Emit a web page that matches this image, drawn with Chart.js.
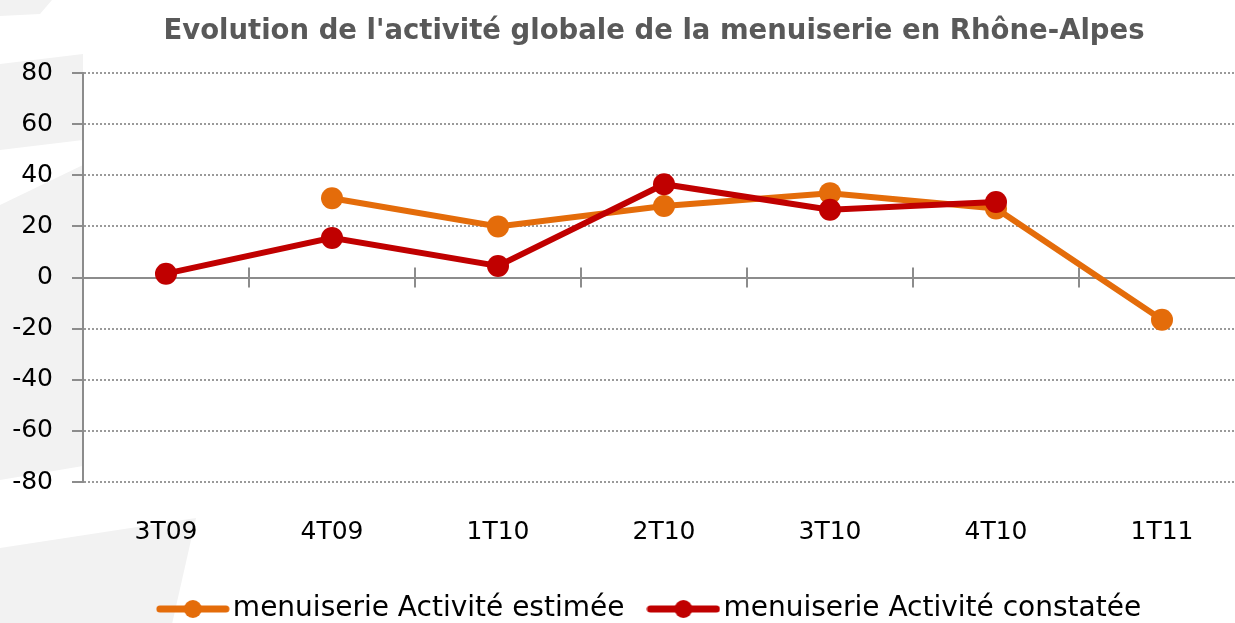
<!DOCTYPE html>
<html lang="fr">
<head>
<meta charset="utf-8">
<title>Evolution de l'activité globale de la menuiserie en Rhône-Alpes</title>
<script src="https://cdn.jsdelivr.net/npm/chart.js@4.4.1/dist/chart.umd.min.js"></script>
<style>
    html, body { margin: 0; padding: 0; background: #fff; overflow: hidden; }
    #wrap { position: relative; width: 1308px; height: 633px; }
    #chart { position: relative; z-index: 1; }
    .swoosh { position: absolute; left: 0; top: 0; width: 260px; height: 633px; background: #f2f2f2; z-index: 0; }
</style>
</head>
<body>
<div id="wrap">
    <div class="swoosh" style="clip-path: polygon(0 0, 52px 0, 40px 14px, 0 16px);"></div>
    <div class="swoosh" style="clip-path: polygon(0 64px, 83px 54px, 83px 140px, 0 150px);"></div>
    <div class="swoosh" style="clip-path: polygon(0 205px, 83px 165px, 83px 466px, 0 480px);"></div>
    <div class="swoosh" style="clip-path: polygon(0 548px, 196px 518px, 170px 633px, 0 633px);"></div>
    <canvas id="chart"></canvas>
</div>
<script>
const quarters = ['3T09', '4T09', '1T10', '2T10', '3T10', '4T10', '1T11'];
const activiteEstimee = [null, 31, 20, 28, 33, 27, -16.5];
const activiteConstatee = [1.5, 15.5, 4.5, 36.5, 26.5, 29.5, null];
const seriesLabels = ['menuiserie Activité estimée', 'menuiserie Activité constatée'];
const yMin = -80;
const yMax = 80;
const yStep = 20;

const ORANGE = '#e46c0a';
const RED = '#c00000';
const AXIS_GREY = '#8c8c8c';
const GRID_GREY = '#9a9a9a';
const FONT = "'DejaVu Sans', sans-serif";

// legend marker: short line with a dot, like the spreadsheet legend
function legendIcon(color) {
    const c = document.createElement('canvas');
    c.width = 74;
    c.height = 20;
    const g = c.getContext('2d');
    g.strokeStyle = color;
    g.lineWidth = 7;
    g.lineCap = 'round';
    g.beginPath();
    g.moveTo(4, 10);
    g.lineTo(70, 10);
    g.stroke();
    g.fillStyle = color;
    g.beginPath();
    g.arc(37, 10, 9, 0, Math.PI * 2);
    g.fill();
    return c;
}
const legendIcons = [legendIcon(ORANGE), legendIcon(RED)];

// white plot area over the slide background
const plotBackground = {
    id: 'plotBackground',
    beforeDraw(chart) {
        const { ctx, chartArea } = chart;
        ctx.save();
        ctx.fillStyle = '#fff';
        ctx.fillRect(chartArea.left, chartArea.top, chartArea.right - chartArea.left, chartArea.bottom - chartArea.top);
        ctx.restore();
    }
};

// small crossing marks on the zero line between categories
const zeroLineTicks = {
    id: 'zeroLineTicks',
    beforeDatasetsDraw(chart) {
        const { ctx, scales: { x, y } } = chart;
        const y0 = y.getPixelForValue(0);
        ctx.save();
        ctx.strokeStyle = AXIS_GREY;
        ctx.lineWidth = 2;
        for (let i = 1; i < quarters.length; i++) {
            const xp = (x.getPixelForValue(i - 1) + x.getPixelForValue(i)) / 2;
            ctx.beginPath();
            ctx.moveTo(xp, y0 - 10);
            ctx.lineTo(xp, y0 + 10);
            ctx.stroke();
        }
        ctx.restore();
    }
};

const isZero = (ctx) => ctx.type === 'tick' && ctx.tick && ctx.tick.value === 0;
const gridDash = (ctx) => (ctx.type === 'tick' && !isZero(ctx) ? [2, 2] : []);

new Chart(document.getElementById('chart'), {
    type: 'line',
    data: {
        labels: quarters,
        datasets: [
            {
                label: seriesLabels[0],
                data: activiteEstimee,
                borderColor: ORANGE,
                backgroundColor: ORANGE,
                borderWidth: 6,
                pointRadius: 11,
                pointHoverRadius: 11,
                pointBorderWidth: 0,
                tension: 0,
                order: 2
            },
            {
                label: seriesLabels[1],
                data: activiteConstatee,
                borderColor: RED,
                backgroundColor: RED,
                borderWidth: 6,
                pointRadius: 11,
                pointHoverRadius: 11,
                pointBorderWidth: 0,
                tension: 0,
                order: 1
            }
        ]
    },
    options: {
        responsive: true,
        maintainAspectRatio: false,
        animation: false,
        layout: { padding: 0 },
        plugins: {
            title: {
                display: true,
                text: "Evolution de l'activité globale de la menuiserie en Rhône-Alpes",
                color: '#595959',
                font: { family: FONT, size: 27.5, weight: 'bold' },
                padding: { top: 15, bottom: 25 }
            },
            legend: {
                position: 'bottom',
                labels: {
                    usePointStyle: true,
                    pointStyleWidth: 52,
                    padding: 33,
                    color: '#000',
                    font: { family: FONT, size: 28 },
                    sort: (a, b) => a.datasetIndex - b.datasetIndex,
                    generateLabels: (chart) => {
                        const items = Chart.defaults.plugins.legend.labels.generateLabels(chart);
                        items.forEach((item) => {
                            item.pointStyle = legendIcons[item.datasetIndex];
                        });
                        return items;
                    }
                }
            },
            tooltip: { enabled: false }
        },
        scales: {
            x: {
                offset: true,
                grid: { display: false },
                border: { display: false },
                ticks: { color: '#000', font: { family: FONT, size: 25 }, padding: 27, maxRotation: 0 },
                afterFit: (scale) => { scale.height = 80; }
            },
            y: {
                min: yMin,
                max: yMax,
                ticks: { stepSize: yStep, color: '#000', font: { family: FONT, size: 25 }, padding: 19 },
                grid: {
                    color: (ctx) => (isZero(ctx) ? AXIS_GREY : GRID_GREY),
                    lineWidth: 2,
                    borderDash: gridDash,
                    tickLength: 11,
                    tickWidth: 2,
                    tickColor: AXIS_GREY,
                    tickBorderDash: []
                },
                border: { display: true, color: AXIS_GREY, width: 2, dash: gridDash },
                afterFit: (scale) => { scale.width = 83; }
            },
            // empty axis on the right, only reserves the space past the last category
            yRight: {
                type: 'linear',
                position: 'right',
                min: yMin,
                max: yMax,
                ticks: { display: false },
                grid: { display: false },
                border: { display: false },
                afterFit: (scale) => { scale.width = 63; }
            }
        }
    },
    plugins: [plotBackground, zeroLineTicks]
});
</script>
</body>
</html>
